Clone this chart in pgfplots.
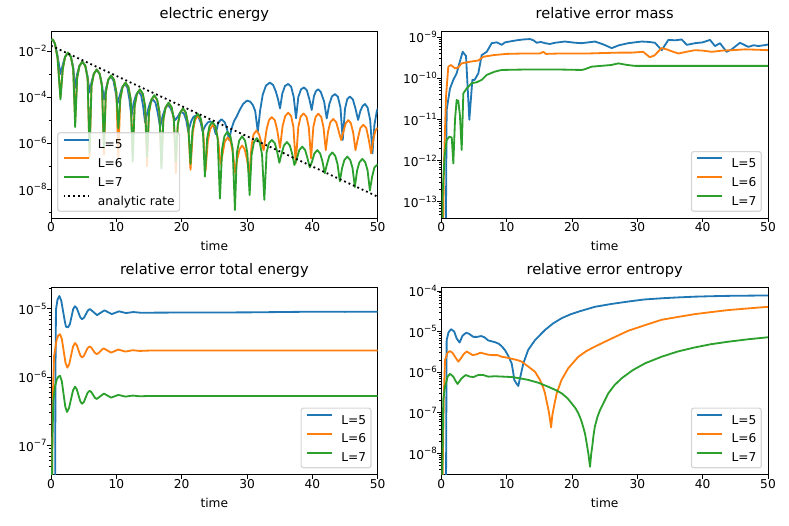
\documentclass[border=0pt]{standalone}
\usepackage{fontspec}
\setmainfont{DejaVu Sans}
\usepackage{pgfplots}
\pgfplotsset{compat=1.18}
\definecolor{C0}{RGB}{31,119,180}
\definecolor{C1}{RGB}{255,127,14}
\definecolor{C2}{RGB}{44,160,44}
\newcommand{\tickfont}{\fontsize{12.2}{14.6}\selectfont}
\newcommand{\titlefont}{\fontsize{14.6}{17.5}\selectfont}
\newcommand{\E}[1]{10\raisebox{5.3pt}{\fontsize{8.6}{10}\selectfont −#1}}
\pgfplotsset{
 mpl/.style={
  scale only axis, width=326.7pt, height=187pt,
  xmin=0, xmax=50, xtick={0,10,20,30,40,50},
  tick pos=left, tick align=outside,
  major tick length=4.25pt, minor tick length=2.43pt,
  tick style={black, line width=0.97pt},
  minor tick style={line width=0.73pt},
  axis line style={black, line width=0.97pt},
  tick label style={font=\tickfont},
  /pgf/number format/assume math mode=true,
  xticklabel style={inner sep=0pt, anchor=north},
  yticklabel style={inner sep=0pt, anchor=east},
  title style={font=\titlefont, anchor=base, at={(axis description cs:0.5,1)}, yshift=6.5pt, inner sep=0pt},
  xlabel={time},
  xlabel style={font=\tickfont, anchor=base, at={(axis description cs:0.5,0)}, yshift=-33pt, inner sep=0pt},
  legend cell align=left,
  legend style={font=\tickfont, draw=black!20, line width=1.2pt, rounded corners=2.4pt, fill=white, fill opacity=0.8, draw opacity=0.8, text opacity=1, inner xsep=4.9pt, inner ysep=5.85pt, row sep=8.9pt, column sep=8.3pt, nodes={inner sep=0pt, text height=9.3pt, text depth=0pt}},
  legend image code/.code={\draw[#1, line width=2pt, draw opacity=1, sharp corners] (0pt,4.4pt) -- (25pt,4.4pt);},
 },
 ln/.style={line width=1.82pt, line join=round},
}
\begin{document}
\begin{tikzpicture}
%%%%%%%%%%%%%%%% electric energy
\begin{axis}[mpl, at={(51pt,308pt)}, anchor=south west, title={electric energy},
  ymin=-9.245, ymax=-1.132, ytick={-8,-6,-4,-2}, yticklabels={\E{8},\E{6},\E{4},\E{2}},
  minor ytick={-9,-7,-5,-3},
  legend style={at={(axis description cs:0,0)}, anchor=south west, xshift=6.1pt, yshift=6.1pt}]
\addplot[C0, ln] coordinates {
(0,-1.52) (0.25,-1.50) (0.6,-1.68) (1.0,-2.2) (1.45,-3.0)
(1.8,-2.6) (2.15,-2.25) (2.6,-2.08) (3.05,-2.25) (3.4,-2.7) (3.7,-3.6)
(4.0,-3.0) (4.35,-2.64) (4.8,-2.47) (5.25,-2.64) (5.6,-3.1) (5.9,-3.8)
(6.2,-3.35) (6.55,-3.0) (7.0,-2.82) (7.45,-3.0) (7.8,-3.45) (8.1,-4.1)
(8.4,-3.65) (8.75,-3.28) (9.15,-3.1) (9.55,-3.28) (9.9,-3.8) (10.15,-4.3)
(10.5,-3.95) (10.85,-3.6) (11.3,-3.42) (11.7,-3.6) (12.0,-4.1) (12.3,-4.85)
(12.65,-4.25) (13.0,-3.92) (13.4,-3.75) (13.8,-3.92) (14.1,-4.4) (14.4,-5.1)
(14.8,-4.6) (15.15,-4.25) (15.6,-4.1) (16.0,-4.25) (16.35,-4.7) (16.7,-5.3)
(17.1,-4.8) (17.5,-4.48) (17.9,-4.35) (18.3,-4.48) (18.65,-4.75) (19.0,-5.0)
(19.4,-4.85) (19.7,-4.7) (20.0,-4.65) (20.35,-4.72) (20.7,-5.0) (21.0,-5.5)
(21.45,-5.05) (21.8,-4.86) (22.2,-4.8) (22.6,-4.88) (22.9,-5.1) (23.2,-5.5)
(23.6,-5.25) (24.0,-5.1) (24.4,-5.05) (24.8,-5.15) (25.2,-5.6)
(25.6,-5.1) (26.1,-4.96) (26.6,-5.1) (26.95,-5.4) (27.25,-5.86)
(27.6,-5.4) (28.0,-5.05) (28.4,-4.85) (28.9,-4.55) (29.4,-4.3) (30.0,-4.15) (30.5,-4.2) (30.9,-4.35) (31.25,-4.6) (31.65,-5.5)
(32.0,-4.6) (32.4,-3.9) (32.9,-3.5) (33.5,-3.37) (34.0,-3.48) (34.4,-3.75) (34.75,-4.1) (35.05,-4.49)
(35.4,-3.85) (35.8,-3.52) (36.3,-3.43) (36.75,-3.55) (37.15,-4.0) (37.5,-4.92)
(37.85,-4.0) (38.25,-3.67) (38.7,-3.58) (39.15,-3.7) (39.55,-4.1) (39.9,-4.56)
(40.25,-3.95) (40.55,-3.74) (40.9,-3.66) (41.3,-3.78) (41.8,-4.2) (42.2,-4.92)
(42.6,-4.3) (43.0,-3.97) (43.45,-3.87) (43.9,-3.98) (44.3,-4.45) (44.65,-5.86)
(45.0,-4.5) (45.35,-4.08) (45.75,-3.98) (46.2,-4.1) (46.6,-4.5) (47.0,-4.99)
(47.35,-4.6) (47.7,-4.38) (48.05,-4.3) (48.45,-4.45) (48.85,-5.0) (49.2,-6.44)
(49.5,-5.2) (49.85,-4.63) (50,-4.5)};
\addlegendentry{L=5}
\addplot[C1, ln] coordinates {
(0,-1.52) (0.25,-1.50) (0.6,-1.68) (1.0,-2.3) (1.45,-4.0)
(1.8,-2.79) (2.15,-2.26) (2.6,-2.07) (3.05,-2.26) (3.4,-2.79) (3.7,-5.0)
(4.0,-3.18) (4.35,-2.65) (4.8,-2.46) (5.25,-2.65) (5.6,-3.18) (5.9,-6.6)
(6.2,-3.52) (6.55,-2.99) (7.0,-2.80) (7.45,-2.99) (7.8,-3.52) (8.1,-6.5)
(8.4,-3.78) (8.75,-3.25) (9.2,-3.07) (9.65,-3.26) (10.0,-3.79) (10.3,-6.6)
(10.6,-4.1) (10.95,-3.57) (11.4,-3.38) (11.85,-3.57) (12.2,-4.1) (12.5,-6.5)
(12.8,-4.4) (13.15,-3.87) (13.6,-3.68) (14.05,-3.87) (14.4,-4.4) (14.7,-7.0)
(15.0,-4.66) (15.35,-4.13) (15.8,-3.94) (16.25,-4.13) (16.6,-4.66) (16.9,-6.9)
(17.2,-4.98) (17.55,-4.45) (18.0,-4.26) (18.45,-4.45) (18.8,-4.98) (19.1,-7.3)
(19.4,-5.22) (19.75,-4.69) (20.2,-4.5) (20.65,-4.69) (21.0,-5.22) (21.35,-7.15)
(21.7,-5.52) (22.05,-4.99) (22.5,-4.8) (22.95,-4.99) (23.3,-5.52) (23.65,-7.2)
(24.0,-5.92) (24.35,-5.39) (24.8,-5.2) (25.25,-5.39) (25.6,-5.92) (25.95,-6.9)
(26.3,-6.4) (26.6,-5.93) (27.05,-5.75) (27.5,-5.93) (27.85,-6.45) (28.2,-7.3)
(28.5,-6.7) (28.85,-6.27) (29.25,-6.1) (29.65,-6.27) (30.0,-6.7) (30.35,-7.4)
(30.7,-6.1) (31.0,-5.62) (31.45,-5.45) (31.85,-5.62) (32.2,-6.0) (32.55,-6.3)
(33.0,-5.4) (33.35,-5.0) (33.8,-4.87) (34.25,-5.0) (34.6,-5.4) (35.05,-6.2)
(35.45,-5.25) (35.85,-4.82) (36.3,-4.68) (36.75,-4.82) (37.1,-5.3) (37.45,-6.87)
(37.85,-5.3) (38.2,-4.85) (38.65,-4.71) (39.1,-4.85) (39.45,-5.3) (39.8,-6.66)
(40.15,-5.3) (40.5,-4.86) (40.9,-4.72) (41.35,-4.86) (41.7,-5.3) (42.05,-6.3)
(42.4,-5.5) (42.75,-5.09) (43.2,-4.95) (43.65,-5.09) (44.0,-5.45) (44.4,-5.86)
(44.75,-5.5) (45.1,-5.14) (45.5,-5.0) (45.9,-5.14) (46.25,-5.55) (46.6,-6.3)
(47.0,-5.75) (47.35,-5.34) (47.8,-5.2) (48.25,-5.34) (48.6,-5.8) (49.0,-6.44)
(49.35,-5.8) (49.65,-5.45) (50,-5.33)};
\addlegendentry{L=6}
\addplot[C2, ln] coordinates {
(0,-1.52) (0.25,-1.50) (0.6,-1.68) (1.0,-2.3) (1.45,-4.1)
(1.8,-2.79) (2.15,-2.26) (2.6,-2.07) (3.05,-2.26) (3.4,-2.79) (3.7,-5.3)
(4.0,-3.18) (4.35,-2.65) (4.8,-2.46) (5.25,-2.65) (5.6,-3.18) (5.9,-6.4)
(6.2,-3.52) (6.55,-2.99) (7.0,-2.80) (7.45,-2.99) (7.8,-3.52) (8.1,-6.2)
(8.4,-3.78) (8.75,-3.25) (9.2,-3.06) (9.65,-3.25) (10.0,-3.78) (10.3,-5.35)
(10.6,-4.09) (10.95,-3.56) (11.4,-3.37) (11.85,-3.56) (12.2,-4.09) (12.5,-6.8)
(12.8,-4.38) (13.15,-3.85) (13.6,-3.66) (14.05,-3.85) (14.4,-4.38) (14.7,-6.6)
(15.0,-4.64) (15.35,-4.11) (15.8,-3.92) (16.25,-4.11) (16.6,-4.64) (16.9,-7.1)
(17.2,-4.96) (17.55,-4.43) (18.0,-4.24) (18.45,-4.43) (18.8,-4.96) (19.1,-6.8)
(19.4,-5.21) (19.75,-4.68) (20.2,-4.49) (20.65,-4.68) (21.0,-5.21) (21.35,-6.9)
(21.65,-5.44) (22.0,-4.91) (22.45,-4.72) (22.9,-4.91) (23.25,-5.44) (23.55,-7.45)
(23.9,-5.79) (24.25,-5.26) (24.7,-5.07) (25.15,-5.26) (25.5,-5.79) (25.85,-8.4)
(26.2,-6.22) (26.55,-5.69) (27.0,-5.5) (27.45,-5.69) (27.8,-6.22) (28.15,-8.9)
(28.45,-6.42) (28.8,-5.89) (29.25,-5.7) (29.7,-5.89) (30.05,-6.42) (30.4,-8.25)
(30.7,-6.5) (31.05,-5.97) (31.5,-5.78) (31.95,-5.97) (32.3,-6.5) (32.65,-8.46)
(33.0,-6.4) (33.35,-6.0) (33.8,-5.86) (34.25,-6.0) (34.6,-6.35) (34.95,-6.85)
(35.3,-6.45) (35.65,-6.1) (36.1,-5.95) (36.55,-6.1) (36.9,-6.45) (37.25,-6.95)
(37.65,-6.65) (38.0,-6.3) (38.45,-6.15) (38.9,-6.3) (39.25,-6.65) (39.6,-7.05)
(39.95,-6.8) (40.3,-6.45) (40.75,-6.3) (41.2,-6.45) (41.55,-6.8) (41.9,-7.3)
(42.25,-6.9) (42.6,-6.55) (43.05,-6.4) (43.5,-6.55) (43.85,-6.9) (44.2,-7.65)
(44.55,-7.08) (44.9,-6.73) (45.35,-6.58) (45.8,-6.73) (46.15,-7.08) (46.5,-7.9)
(46.85,-7.18) (47.2,-6.83) (47.65,-6.68) (48.1,-6.83) (48.45,-7.18) (48.8,-8.05)
(49.15,-7.45) (49.5,-7.05) (50,-6.92)};
\addlegendentry{L=7}
\addplot[black, line width=1.82pt, dash pattern=on 1.82pt off 3pt] coordinates {(0,-1.77) (50,-8.32)};
\addlegendentry{analytic rate}
\end{axis}
%%%%%%%%%%%%%%%% relative error mass
\begin{axis}[mpl, at={(441.3pt,308pt)}, anchor=south west, title={relative error mass},
  ymin=-13.393, ymax=-8.854, ytick={-13,-12,-11,-10,-9}, yticklabels={\E{13},\E{12},\E{11},\E{10},\E{9}},
  minor ytick={-13.301,-13.222,-13.155,-13.097,-13.046,
   -12.699,-12.523,-12.398,-12.301,-12.222,-12.155,-12.097,-12.046,
   -11.699,-11.523,-11.398,-11.301,-11.222,-11.155,-11.097,-11.046,
   -10.699,-10.523,-10.398,-10.301,-10.222,-10.155,-10.097,-10.046,
   -9.699,-9.523,-9.398,-9.301,-9.222,-9.155,-9.097,-9.046},
  legend style={at={(axis description cs:1,0)}, anchor=south east, xshift=-6.1pt, yshift=6.1pt}]
\addplot[C0, ln] coordinates {
(0.6,-16) (0.82,-10.77) (1.33,-10.25) (1.84,-10.04) (2.35,-9.88) (2.76,-9.64) (3.27,-9.36) (3.78,-9.46) (4.29,-11.01) (4.75,-10.04) (5.1,-10.04) (5.67,-9.88) (6.18,-9.44) (6.95,-9.36) (7.71,-9.15) (8.5,-9.13) (9.24,-9.19) (9.75,-9.13) (10.8,-9.1) (11.54,-9.08) (12.5,-9.06) (13.57,-9.05) (14.1,-9.08) (14.6,-9.14) (15.2,-9.12) (15.9,-9.15) (16.6,-9.17) (17.4,-9.14) (18.9,-9.11) (19.44,-9.12) (20.5,-9.14) (21.48,-9.15) (22.5,-9.13) (23.52,-9.11) (24.8,-9.18) (26.07,-9.27) (27.2,-9.2) (28.62,-9.15) (29.6,-9.13) (30.66,-9.11) (31.8,-9.12) (32.7,-9.14) (33.73,-9.32) (34.75,-9.07) (35.8,-9.08) (36.79,-9.06) (37.56,-9.19) (38.83,-9.15) (40.0,-9.13) (41.12,-9.07) (41.89,-9.22) (42.65,-9.15) (43.67,-9.36) (44.44,-9.30) (45.71,-9.14) (46.99,-9.24) (47.8,-9.2) (48.52,-9.22) (49.8,-9.19) (50,-9.18)};
\addlegendentry{L=5}
\addplot[C1, ln] coordinates {
(0.1,-16) (0.41,-12.07) (0.72,-10.45) (1.07,-9.72) (1.48,-9.68) (2.1,-9.76) (2.6,-9.74) (3.1,-9.64) (4.4,-9.6) (5.67,-9.57) (6.43,-9.48) (7.96,-9.44) (10.0,-9.41) (12.6,-9.40) (15.1,-9.40) (15.6,-9.36) (16.0,-9.41) (18.2,-9.40) (20.5,-9.40) (22.5,-9.40) (24.5,-9.39) (27.0,-9.38) (29.0,-9.38) (30.9,-9.36) (31.9,-9.49) (32.6,-9.45) (33.7,-9.27) (34.5,-9.30) (35.5,-9.36) (36.3,-9.40) (37.5,-9.36) (38.8,-9.32) (40.0,-9.33) (41.4,-9.36) (43.0,-9.33) (44.5,-9.32) (46.5,-9.30) (48.5,-9.31) (50,-9.32)};
\addlegendentry{L=6}
\addplot[C2, ln] coordinates {
(0.05,-16) (0.2,-12.79) (0.5,-11.9) (0.82,-11.5) (1.23,-11.42) (1.6,-11.44) (1.84,-12.07) (2.1,-11.0) (2.35,-10.53) (2.6,-10.55) (2.85,-10.9) (3.12,-11.74) (3.37,-10.37) (3.88,-10.25) (4.65,-10.12) (5.4,-10.1) (6.18,-10.04) (6.95,-9.92) (8.2,-9.84) (9.24,-9.80) (12.6,-9.79) (18.2,-9.79) (21.5,-9.80) (22.0,-9.78) (23.0,-9.72) (24.5,-9.7) (26,-9.68) (27.1,-9.64) (28.5,-9.68) (29.6,-9.70) (35,-9.70) (40,-9.70) (45,-9.70) (50,-9.70)};
\addlegendentry{L=7}
\end{axis}
%%%%%%%%%%%%%%%% relative error total energy
\begin{axis}[mpl, at={(51pt,51.5pt)}, anchor=south west, title={relative error total energy},
  ymin=-7.427, ymax=-4.685, ytick={-7,-6,-5}, yticklabels={\E{7},\E{6},\E{5}},
  minor ytick={-7.301,-7.222,-7.155,-7.097,-7.046,
   -6.699,-6.523,-6.398,-6.301,-6.222,-6.155,-6.097,-6.046,
   -5.699,-5.523,-5.398,-5.301,-5.222,-5.155,-5.097,-5.046,-4.699},
  legend style={at={(axis description cs:1,0)}, anchor=south east, xshift=-6.1pt, yshift=6.1pt}]
\addplot[C0, ln] coordinates {
(0.62,-8.5) (0.68,-6.0) (0.76,-5.01) (1.0,-4.86) (1.28,-4.81) (1.57,-4.877) (1.86,-5.04) (2.15,-5.2) (2.3,-5.26) (2.6,-5.27) (2.9,-5.22) (3.15,-5.11) (3.4,-5.0) (3.67,-4.96) (3.94,-4.988) (4.21,-5.055) (4.48,-5.122) (4.75,-5.15) (5.05,-5.128) (5.35,-5.075) (5.65,-5.022) (5.95,-5.0) (6.5,-5.045) (7.05,-5.09) (7.6,-5.055) (8.2,-5.02) (8.75,-5.048) (9.3,-5.075) (9.85,-5.055) (10.4,-5.035) (10.95,-5.048) (11.5,-5.06) (12.05,-5.052) (12.6,-5.045) (13.7,-5.055) (20,-5.052) (30,-5.05) (35,-5.045) (40,-5.04) (45,-5.042) (50,-5.04)};
\addlegendentry{L=5}
\addplot[C1, ln] coordinates {
(0.1,-8.5) (0.25,-6.4) (0.46,-5.70) (0.87,-5.45) (1.1,-5.39) (1.38,-5.37) (1.66,-5.44) (1.94,-5.615) (2.22,-5.79) (2.5,-5.86) (2.79,-5.81) (3.08,-5.68) (3.38,-5.55) (3.67,-5.50) (3.94,-5.53) (4.21,-5.605) (4.48,-5.68) (4.75,-5.71) (5.04,-5.687) (5.32,-5.63) (5.61,-5.573) (5.9,-5.55) (6.17,-5.566) (6.45,-5.605) (6.72,-5.644) (7.0,-5.66) (7.27,-5.648) (7.55,-5.62) (7.83,-5.592) (8.1,-5.58) (8.65,-5.61) (9.2,-5.64) (9.75,-5.617) (10.3,-5.595) (10.85,-5.61) (11.4,-5.625) (12.5,-5.605) (13.6,-5.615) (15,-5.61) (50,-5.61)};
\addlegendentry{L=6}
\addplot[C2, ln] coordinates {
(0.1,-8.5) (0.2,-7.0) (0.35,-6.35) (0.6,-6.14) (0.9,-6.03) (1.15,-5.99) (1.38,-5.98) (1.65,-6.057) (1.92,-6.245) (2.18,-6.43) (2.45,-6.51) (2.75,-6.456) (3.06,-6.325) (3.37,-6.194) (3.67,-6.14) (3.94,-6.177) (4.21,-6.265) (4.48,-6.353) (4.75,-6.39) (5.04,-6.362) (5.32,-6.295) (5.61,-6.228) (5.9,-6.20) (6.17,-6.218) (6.45,-6.26) (6.72,-6.302) (7.0,-6.32) (7.55,-6.28) (8.1,-6.24) (8.65,-6.27) (9.2,-6.30) (10.3,-6.26) (11.4,-6.285) (12.5,-6.27) (13.6,-6.28) (15,-6.276) (50,-6.276)};
\addlegendentry{L=7}
\end{axis}
%%%%%%%%%%%%%%%% relative error entropy
\begin{axis}[mpl, at={(441.3pt,51.5pt)}, anchor=south west, title={relative error entropy},
  ymin=-8.52, ymax=-3.914, ytick={-8,-7,-6,-5,-4}, yticklabels={\E{8},\E{7},\E{6},\E{5},\E{4}},
  minor ytick={-8.398,-8.301,-8.222,-8.155,-8.097,-8.046,
   -7.699,-7.523,-7.398,-7.301,-7.222,-7.155,-7.097,-7.046,
   -6.699,-6.523,-6.398,-6.301,-6.222,-6.155,-6.097,-6.046,
   -5.699,-5.523,-5.398,-5.301,-5.222,-5.155,-5.097,-5.046,
   -4.699,-4.523,-4.398,-4.301,-4.222,-4.155,-4.097,-4.046},
  legend style={at={(axis description cs:1,0)}, anchor=south east, xshift=-6.1pt, yshift=6.1pt}]
\addplot[C0, ln] coordinates {
(0.7,-9.5) (0.82,-5.21) (1.1,-5.02) (1.49,-4.94) (1.98,-5.0) (2.35,-5.17) (2.8,-5.27) (3.25,-5.1) (3.8,-5.03) (4.2,-5.05) (4.9,-5.13) (5.5,-5.13) (6.1,-5.11) (6.6,-5.14) (7.2,-5.22) (8.2,-5.26) (8.8,-5.3) (9.3,-5.37) (9.8,-5.47) (10.25,-5.6) (10.76,-5.78) (11.0,-6.0) (11.17,-6.19) (11.5,-6.28) (11.78,-6.34) (12.1,-6.11) (12.56,-5.78) (13.3,-5.45) (14.34,-5.21) (15.87,-4.96) (17.1,-4.8) (18.42,-4.67) (19.7,-4.58) (20.97,-4.51) (23.5,-4.39) (26,-4.32) (28.6,-4.26) (31,-4.21) (33.7,-4.18) (36,-4.16) (38.8,-4.14) (41,-4.13) (43.9,-4.12) (47,-4.115) (50,-4.11)};
\addlegendentry{L=5}
\addplot[C1, ln] coordinates {
(0.1,-9.5) (0.4,-6.5) (0.57,-5.70) (0.95,-5.52) (1.3,-5.48) (1.7,-5.52) (2.1,-5.62) (2.6,-5.74) (3.0,-5.66) (3.4,-5.56) (3.88,-5.49) (4.3,-5.53) (4.8,-5.58) (5.4,-5.56) (6.0,-5.52) (6.5,-5.54) (7.2,-5.57) (8.0,-5.58) (8.6,-5.58) (9.24,-5.62) (10.0,-5.64) (10.8,-5.67) (11.6,-5.70) (12.3,-5.74) (13.3,-5.86) (14.34,-5.99) (15.1,-6.19) (15.6,-6.38) (15.87,-6.52) (16.2,-6.78) (16.4,-6.93) (16.6,-7.12) (16.8,-7.36) (17.0,-7.05) (17.2,-6.88) (17.66,-6.52) (18.4,-6.19) (19.44,-5.90) (20.97,-5.62) (22.2,-5.48) (23.5,-5.37) (26.08,-5.17) (28.6,-4.98) (31.2,-4.84) (33.7,-4.71) (36.2,-4.64) (38.8,-4.57) (41.3,-4.52) (43.9,-4.47) (46.9,-4.43) (50,-4.39)};
\addlegendentry{L=6}
\addplot[C2, ln] coordinates {
(0.05,-9.5) (0.3,-6.68) (0.57,-6.36) (0.97,-6.11) (1.33,-6.04) (1.84,-6.11) (2.2,-6.22) (2.5,-6.29) (2.8,-6.22) (3.12,-6.15) (3.73,-6.07) (4.4,-6.11) (4.9,-6.12) (5.66,-6.07) (6.43,-6.07) (7.2,-6.11) (8.2,-6.10) (9.5,-6.11) (10.8,-6.12) (12,-6.15) (13.3,-6.19) (14.85,-6.26) (16.38,-6.36) (17.5,-6.44) (18.42,-6.52) (19.3,-6.64) (19.96,-6.77) (20.5,-6.88) (20.97,-7.01) (21.4,-7.18) (21.7,-7.34) (22.0,-7.52) (22.25,-7.75) (22.5,-8.0) (22.76,-8.33) (22.95,-8.0) (23.1,-7.83) (23.3,-7.55) (23.5,-7.34) (23.9,-7.1) (24.3,-6.93) (25.56,-6.52) (26.5,-6.32) (27.6,-6.15) (29.3,-5.95) (31.2,-5.78) (33.7,-5.62) (36.2,-5.49) (38.8,-5.39) (41.3,-5.31) (43.9,-5.25) (46.9,-5.19) (50,-5.14)};
\addlegendentry{L=7}
\end{axis}
\pgfresetboundingbox
\useasboundingbox (0pt,0pt) rectangle (789pt,526pt);
\end{tikzpicture}
\end{document}
